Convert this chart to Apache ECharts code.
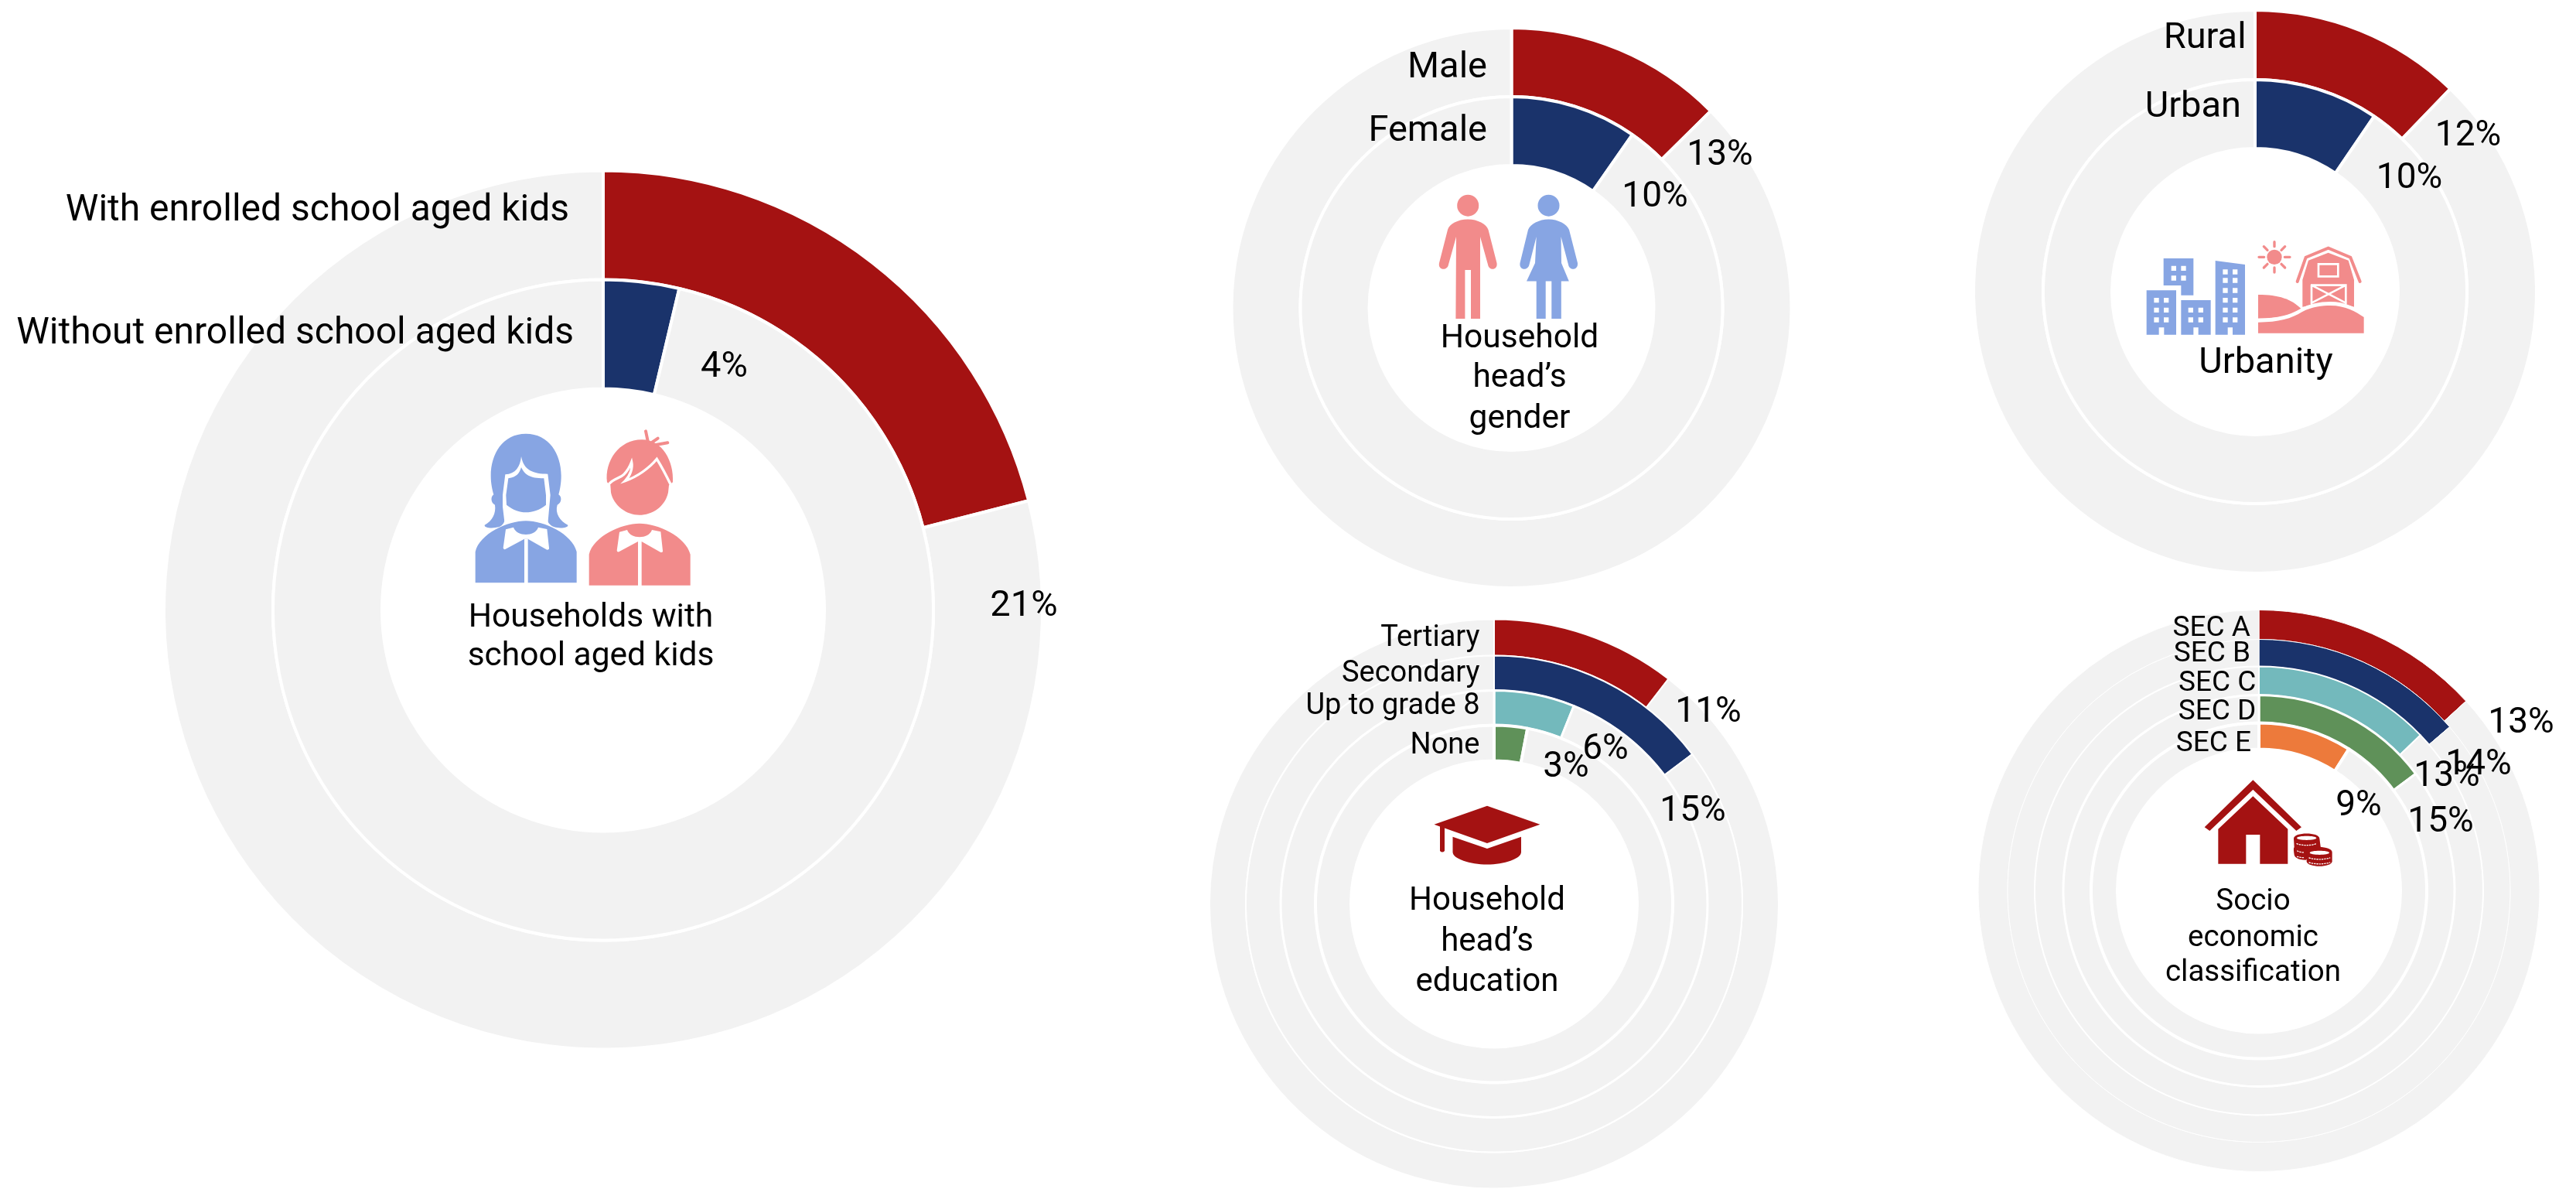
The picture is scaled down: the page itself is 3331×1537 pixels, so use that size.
<!DOCTYPE html>
<html>
<head>
<meta charset="utf-8">
<script src="https://cdn.jsdelivr.net/npm/echarts@6/dist/echarts.min.js"></script>
<style>html,body{margin:0;padding:0;background:#fff}#c{width:3331px;height:1537px}</style>
</head>
<body>
<div id="c"></div>
<script>
// ---------- data ----------
const kidsCategories = ['With enrolled school aged kids', 'Without enrolled school aged kids'];
const kidsValues = [21, 3.7];
const genderCategories = ['Male', 'Female'];
const genderValues = [12.6, 9.7];
const urbanCategories = ['Rural', 'Urban'];
const urbanValues = [12.2, 9.5];
const educationCategories = ['Tertiary', 'Secondary', 'Up to grade 8', 'None'];
const educationValues = [10.5, 14.7, 6.1, 3];
const secCategories = ['SEC A', 'SEC B', 'SEC C', 'SEC D', 'SEC E'];
const secValues = [13.2, 13.7, 12.8, 14.8, 9];
const kidsTitle = ['Households with', 'school aged kids'];
const genderTitle = ['Household', 'head\u2019s', 'gender'];
const urbanTitle = ['Urbanity'];
const educationTitle = ['Household', 'head\u2019s', 'education'];
const secTitle = ['Socio', 'economic', 'classification'];

// ---------- style / layout ----------
const RED='#a41212', NAVY='#1a336b', TEAL='#73b9bc', GREEN='#5f9159', ORANGE='#ed7a3b', GREY='#f2f2f2';
const BLUE_I='#87a5e3', PINK_I='#f28b8b';
const ringColors=[RED,NAVY,TEAL,GREEN,ORANGE];
const FONT='Roboto';
const panels=[
 {cats:kidsCategories, vals:kidsValues, cx:780, cy:788.5, radii:[568,427,286], bw:[4,4],
  catFont:48, catPos:[[736,269],[742,428]], pctFont:47, pctPos:[[1324,780],[936.5,471]],
  title:kidsTitle, titleFont:42.5, titleX:764, titleY:[795,845]},
 {cats:genderCategories, vals:genderValues, cx:1954.5, cy:398, radii:[362,273,184], bw:[4,4],
  catFont:47, catPos:[[1923,84],[1923,166]], pctFont:46, pctPos:[[2224,197],[2140,251]],
  title:genderTitle, titleFont:42.5, titleX:1965, titleY:[434,485,538]},
 {cats:urbanCategories, vals:urbanValues, cx:2916, cy:377, radii:[364,274,185], bw:[4,4],
  catFont:47, catPos:[[2904.6,46],[2898,135]], pctFont:46, pctPos:[[3191.5,172],[3115.5,227]],
  title:urbanTitle, titleFont:47, titleX:2930, titleY:[466]},
 {cats:educationCategories, vals:educationValues, cx:1932, cy:1168.5, radii:[368,321,276,231,185], bw:[2,2,3,4],
  catFont:38, catPos:[[1913.5,821],[1913.5,867],[1913.5,909],[1913.5,960]], pctFont:46,
  pctPos:[[2209,917],[2189,1045],[2076,965],[2025,988]],
  title:educationTitle, titleFont:42, titleX:1923, titleY:[1161,1214,1266]},
 {cats:secCategories, vals:secValues, cx:2921, cy:1151.5, radii:[363,325,290,253,217,183], bw:[1,1,2,3,4],
  catFont:37, catPos:[[2910,808.6],[2910,841.4],[2917.4,880],[2917.4,916.4],[2911,958]], pctFont:46,
  pctPos:[[3260,931],[3205,985],[3164,1000],[3156,1059],[3050,1038]],
  title:secTitle, titleFont:38.5, titleX:2913.5, titleY:[1162,1209,1254]}
];

const series=[], graphics=[];
const TEXT_DY=4;
const txt=(t,x,y,size,align)=>({type:'text',z:50,x:x,y:y+TEXT_DY,style:{text:t,x:0,y:0,fontFamily:FONT,fontSize:size,fill:'#000',align:align,verticalAlign:'middle'}});
panels.forEach(p=>{
  p.vals.forEach((v,i)=>{
    series.push({type:'pie',center:[p.cx,p.cy],radius:[p.radii[i+1],p.radii[i]],startAngle:90,clockwise:true,
      silent:true,animation:false,avoidLabelOverlap:false,label:{show:false},labelLine:{show:false},z:2+i,
      itemStyle:{borderColor:'#fff',borderWidth:p.bw[i]},
      emphasis:{disabled:true},
      data:[{name:p.cats[i],value:v,itemStyle:{color:ringColors[i]}},
            {name:'rest',value:100-v,itemStyle:{color:GREY}}]});
    graphics.push(txt(p.cats[i],p.catPos[i][0],p.catPos[i][1],p.catFont,'right'));
    graphics.push(txt(Math.round(v)+'%',p.pctPos[i][0],p.pctPos[i][1],p.pctFont,'center'));
  });
  p.title.forEach((t,i)=>graphics.push(txt(t,p.titleX,p.titleY[i],p.titleFont,'center')));
});

// ---------- icons (drawn by a custom series, which supports free paths) ----------
const F=(d,fill)=>({type:'path',shape:{pathData:d},style:{fill:fill}});
const S=(d,c,w,dash)=>({type:'path',shape:{pathData:d},style:{fill:'none',stroke:c,lineWidth:w,lineDash:dash||null,lineCap:'round'}});
const C=(cx,cy,r,fill)=>({type:'circle',shape:{cx:cx,cy:cy,r:r},style:{fill:fill}});
const iconGroup=(x,y,k,children)=>({type:'group',x:x,y:y,scaleX:k,scaleY:k,children:children});
const rects=(xs,ys,a)=>{let d='';ys.forEach(y=>xs.forEach(x=>{d+=`M${x} ${y}h${a}v${a}h${-a}Z`}));return d};
const oval=(cx,cy,rx,ry)=>`M${cx-rx} ${cy}C${cx-rx} ${cy-ry*1.33} ${cx+rx} ${cy-ry*1.33} ${cx+rx} ${cy}C${cx+rx} ${cy+ry*1.33} ${cx-rx} ${cy+ry*1.33} ${cx-rx} ${cy}Z`;

const icons=[
 iconGroup(600,540,1/3,[
  F('M240 62C150 62 104 140 104 225C104 255 110 280 115 298C103 305 103 330 120 338C125 370 110 400 80 416C78 428 110 430 135 424C150 418 160 405 160 380L320 380C320 405 335 418 350 424C370 430 405 428 403 416C372 400 352 370 362 338C380 330 380 305 367 298C372 280 377 255 377 225C377 140 330 62 240 62Z',BLUE_I),
  F('M222 150C218 190 200 218 160 220L150 300L150 345L158 412L325 412L335 300L325 218C270 218 232 205 222 150Z','#fff'),
  F('M172 235C205 230 215 215 222 192C235 220 255 235 310 235L318 300L318 338C295 358 265 367 240 367C215 367 190 358 165 338L163 300Z',BLUE_I),
  F('M44 640L44 520C60 450 170 400 240 400C310 400 420 450 437 520L437 640L248 640L248 470L234 470L234 640Z',BLUE_I),
  F('M192 425L162 433L152 505Q153 512 160 510L234 470L248 470L322 512Q332 512 330 505L322 432L288 425C275 462 205 462 192 425Z','#fff'),
  F('M555 250C545 170 600 85 690 85C770 85 815 170 810 250L795 262L792 290C780 345 730 377 680 377C630 377 580 340 570 290L568 262Z',PINK_I),
  S('M562 258C580 235 605 235 620 220C635 205 645 185 650 172C655 195 645 225 625 245C670 230 720 195 748 160C770 195 790 235 803 262','#fff',10),
  S('M715 100L705 52M730 95L752 80M745 105L790 97',PINK_I,12),
  F('M485 650L485 530C501 460 611 410 681 410C751 410 861 460 878 530L878 650L689 650L689 480L675 480L675 650Z',PINK_I),
  F('M633 435L603 443L593 515Q594 522 601 520L675 480L689 480L763 522Q773 522 771 515L763 442L729 435C716 472 646 472 633 435Z','#fff')
 ]),
 iconGroup(0,0,1,[
  C(1898.2,265.7,14,PINK_I),
  F('M1898 283.6C1885 283.6 1874 290 1872 297L1861 340C1859 350 1872 350 1873 342L1883 306L1882.4 412L1894.4 412L1894.4 349L1902 349L1902 412L1914 412L1914 306L1924 342C1925 350 1937 350 1935.5 340L1924.5 297C1922 290 1911 283.6 1898 283.6Z',PINK_I),
  C(2002.5,265.7,14,BLUE_I),
  F('M2002.5 283.6C1990 283.6 1979 290 1976 297L1965.5 340C1964 350 1976 350 1977.5 342L1986.7 306L1985 340L1974 363.6L1986.7 363.6L1986.7 412L1998.7 412L1998.7 363.6L2006.3 363.6L2006.3 412L2018.8 412L2018.8 363.6L2028.8 363.6L2019 340L2018.5 306L2028 342C2029 350 2041 350 2040 340L2029 297C2026 290 2015 283.6 2002.5 283.6Z',BLUE_I)
 ]),
 iconGroup(2760,290,1/3,[
  F('M113 132L229 132L229 275L181 275L181 237L113 237Z',BLUE_I),
  F('M47 256L162 256L162 428L115 428L115 400L95 400L95 428L47 428Z',BLUE_I),
  F('M181 294L296 294L296 428L248 428L248 400L229 400L229 428L181 428Z',BLUE_I),
  F('M314 141L429 156L429 428L381 428L381 400L362 400L362 428L314 428Z',BLUE_I),
  F(rects([143,181],[161,199],19)+rects([76,114],[285,323,361],19)+rects([209,248],[323,361],19)+rects([343,381],[175,208,247,285,323,361],19),'#fff'),
  C(543,127,29,PINK_I),
  S('M543 68L543 86M543 168L543 186M483 127L503 127M583 127L603 127M502 86L516 100M570 154L584 168M584 86L570 100M502 168L516 154',PINK_I,10),
  F('M480 273C560 273 610 290 647 328C600 360 540 365 480 365Z',PINK_I),
  F('M652 320L652 215L675 140L752 110L830 140L852 215L852 320C800 305 720 305 652 320Z',PINK_I),
  S('M632 222L665 128L752 92L838 128L875 222',PINK_I,12),
  S('M714 154L790 154L790 202L714 202Z','#fff',8),
  S('M687 236L820 236L820 308M687 308L687 236M687 236L820 305M820 236L687 305','#fff',8),
  S('M480 372C560 372 605 358 650 332C690 310 730 307 760 307C820 307 860 332 890 352','#fff',14),
  F('M480 380C560 380 610 365 650 340C690 318 730 315 760 315C820 315 860 340 890 360L890 422L480 422Z',PINK_I)
 ]),
 iconGroup(0,0,1,[
  F('M1878.5 1081.8L1923 1097L1967 1081.8L1967 1101.4C1967 1110 1945 1117.5 1923 1117.5C1901 1117.5 1878.5 1110 1878.5 1101.4Z',RED),
  F('M1923 1041.8L1991.4 1065.7L1923 1090L1868 1070.5L1868 1100Q1865 1103 1862 1100L1862 1068.5L1854.5 1065.7Z',RED)
 ]),
 iconGroup(2840,1000,1/3,[
  F('M220 25L408 208L388 222L220 62L52 222L32 208Z',RED),
  F('M220 88L355 215L355 350L247 350L247 237L193 237L193 350L85 350L85 215Z',RED),
  F('M378 252C378 226 478 226 478 252L482 282C490 290 430 330 425 335C395 335 382 325 380 315C378 300 376 290 380 285Z',RED),
  F('M428 305C428 278 527 278 527 305L527 340C527 366 428 366 428 340Z',RED),
  F(oval(428,250,38,8),'#fff'),
  F(oval(478,307,38,8),'#fff'),
  S('M390 272Q428 284 466 272M392 300Q405 306 420 306M392 322Q405 326 420 326','#fff',4,[4,6]),
  S('M438 327Q478 338 518 327M438 345Q478 356 518 345','#fff',4,[4,6])
 ])
];
series.push({type:'custom',coordinateSystem:'none',silent:true,animation:false,z:20,clip:false,data:[[0]],
  renderItem:()=>({type:'group',children:icons})});

const chart=echarts.init(document.getElementById('c'),null,{renderer:'canvas'});
chart.setOption({animation:false,backgroundColor:'#fff',tooltip:{show:false},legend:{show:false},series:series,graphic:{elements:graphics}});
</script>
</body>
</html>
